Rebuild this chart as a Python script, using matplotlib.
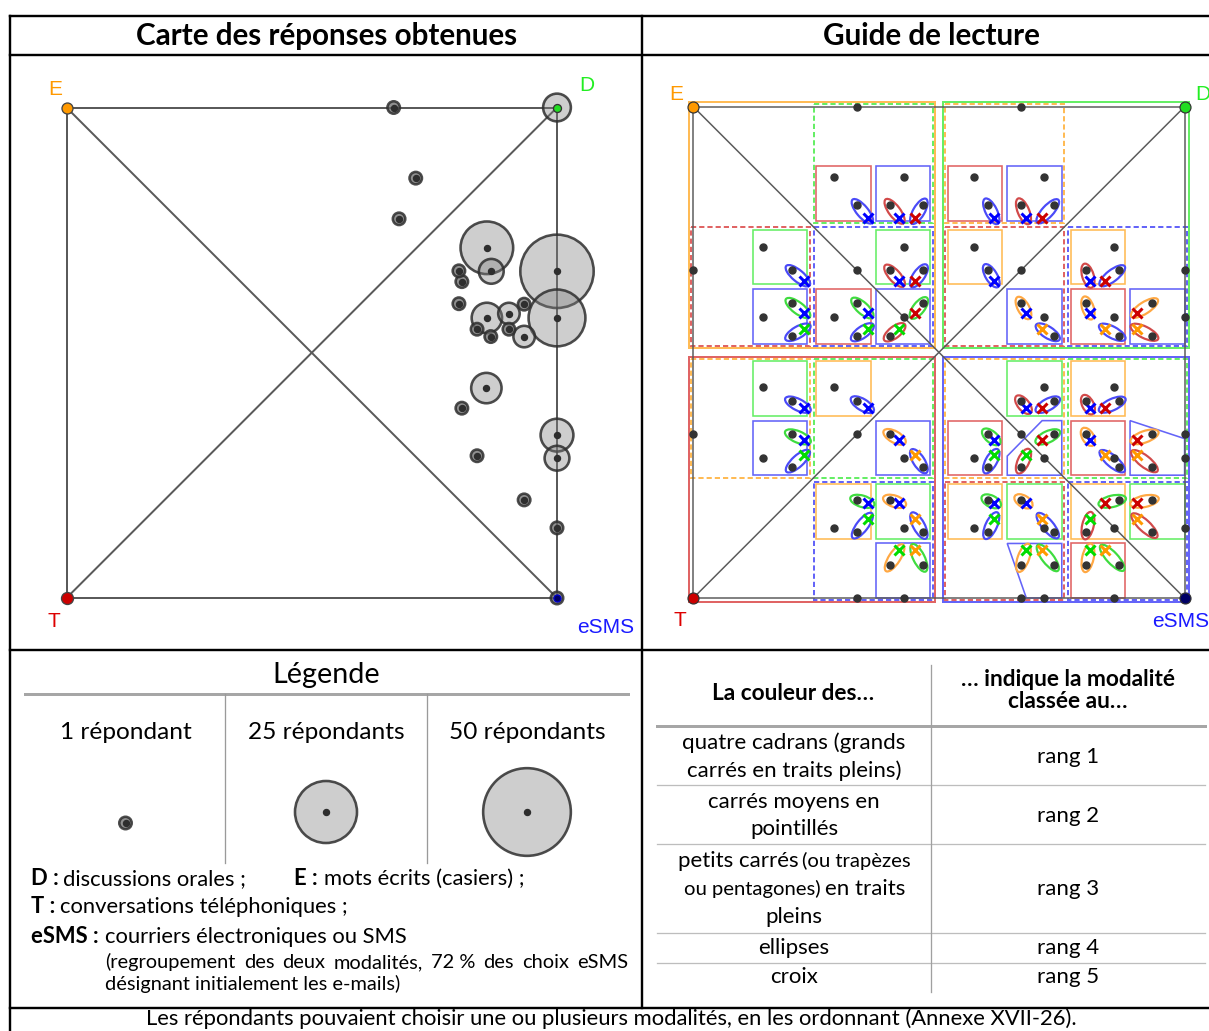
import itertools
import numpy as np
import matplotlib.pyplot as plt
from matplotlib.patches import Circle, Ellipse, Polygon

W, H, DPI = 1209, 1031, 100
PT = 72 / DPI  # points par pixel

plt.rcParams['font.family'] = ['Lato', 'DejaVu Sans']
GEO_FONT = ['Liberation Sans', 'DejaVu Sans']

# --- carte des réponses : position dans le carré (E = 0,0 en haut à gauche ; eSMS = 1,1)
rep_x = [0.667, 1.0, 0.712, 0.678, 0.857, 0.866, 0.800, 0.806, 0.800, 0.857,
         0.837, 0.865, 0.902, 0.902, 0.933, 0.933, 1.0, 1.0, 0.856, 0.806,
         1.0, 1.0, 0.837, 0.933, 1.0, 1.0]
rep_y = [0.0, 0.0, 0.144, 0.227, 0.286, 0.334, 0.333, 0.355, 0.400, 0.429,
         0.452, 0.467, 0.452, 0.420, 0.401, 0.467, 0.334, 0.429, 0.572, 0.613,
         0.668, 0.715, 0.710, 0.800, 0.857, 1.0]
rep_n = [1, 5, 1, 1, 18, 4, 1, 1, 1, 6,
         1, 1, 1, 3, 1, 3, 35, 21, 6, 1,
         7, 4, 1, 1, 1, 1]

legende_n = [1, 25, 50]
legende_txt = ['1 répondant', '25 répondants', '50 répondants']

# --- guide de lecture
choix = ['E', 'D', 'T', 'S', 'S']     # eSMS = e-mail + SMS : peut apparaître 2 fois
poids_rang = [16, 8, 4, 2, 1]
coin = {'E': (0, 0), 'D': (1, 0), 'T': (0, 1), 'S': (1, 1)}
nom = {'E': 'E', 'D': 'D', 'T': 'T', 'S': 'eSMS'}
couleur = {'E': '#ff9900', 'D': '#00dd00', 'T': '#cc0000', 'S': '#0000ff'}
couleur_label = {'E': '#ff9900', 'D': '#22ee22', 'T': '#dd0000', 'S': '#1a1aff'}
couleur_cadre = {'E': '#ffbb55', 'D': '#66ee66', 'T': '#e06464', 'S': '#6464f8'}
couleur_ellipse = {'E': '#ffa843', 'D': '#3fdc3f', 'T': '#d24a4a', 'S': '#4a4af8'}
couleur_coin = {'E': '#ff9900', 'D': '#22dd22', 'T': '#cc0000', 'S': '#000066'}

# petits carrés coupés (trapèzes / pentagones), sommets en fraction de la case
coupes = {
    ('S', 'E', 'S'): [(0, .65), (.64, 0), (1, 0), (1, 1), (0, 1)],
    ('S', 'D', 'S'): [(0, 0), (1, .33), (1, 1), (0, 1)],
    ('S', 'T', 'S'): [(0, 0), (1, 0), (1, 1), (.35, 1)],
}

tableau_gauche = [['quatre cadrans (grands', 'carrés en traits pleins)'],
                  ['carrés moyens en', 'pointillés'],
                  None,
                  ['ellipses'],
                  ['croix']]
tableau_droite = ['rang 1', 'rang 2', 'rang 3', 'rang 4', 'rang 5']

legende_txt_lignes = [('D :', 'discussions orales ;'), ('E :', 'mots écrits (casiers) ;'),
                      ('T :', 'conversations téléphoniques ;'),
                      ('eSMS :', 'courriers électroniques ou SMS')]
note = 'Les répondants pouvaient choisir une ou plusieurs modalités, en les ordonnant (Annexe XVII-26).'


fig = plt.figure(figsize=(W / DPI, H / DPI), dpi=DPI)
renderer = fig.canvas.get_renderer()

fond = fig.add_axes([0, 0, 1, 1])
fond.set_xlim(0, W)
fond.set_ylim(H, 0)
fond.axis('off')


def axe_carre(boite, origine, cote):
    x0, y0, x1, y1 = boite
    ox, oy = origine
    ax = fig.add_axes([x0 / W, 1 - y1 / H, (x1 - x0) / W, (y1 - y0) / H])
    ax.set_xlim((x0 - ox) / cote, (x1 - ox) / cote)
    ax.set_ylim((y1 - oy) / cote, (y0 - oy) / cote)
    ax.axis('off')
    return ax


def largeur(s, size, **kw):
    t = fond.text(0, 0, s, fontsize=size, **kw)
    w = t.get_window_extent(renderer).width
    t.remove()
    return w


def taille(s, cible, **kw):
    return 20 * cible / largeur(s, 20, **kw)


def texte(x, y, s, size, ha='left', bold=False, **kw):
    return fond.text(x, y, s, fontsize=size, ha=ha, va='baseline',
                     fontweight='bold' if bold else 'normal', **kw)


R1 = 6.2  # rayon en px d'une bulle d'un répondant


def bulle(ax, x, y, n, echelle):
    r = R1 * np.sqrt(n) / echelle
    fc = (0.42, 0.42, 0.42, 0.75) if n == 1 else (0.5, 0.5, 0.5, 0.38)
    ax.add_patch(Circle((x, y), r, fc=fc, ec=(0.18, 0.18, 0.18, 0.85),
                        lw=2.6 * PT, zorder=2))
    ax.plot(x, y, 'o', ms=6 * PT, color='#2e2e2e', zorder=3)


def carre(ax, lw):
    for a, b in [('E', 'D'), ('D', 'S'), ('S', 'T'), ('T', 'E'), ('E', 'S'), ('D', 'T')]:
        ax.plot([coin[a][0], coin[b][0]], [coin[a][1], coin[b][1]], color='#5a5a5a', lw=lw, zorder=1.5)


def etiquettes(ax, decal):
    for m, (dx, dy) in decal.items():
        ax.annotate(nom[m], xy=coin[m], xytext=(dx * PT, -dy * PT), textcoords='offset points',
                    ha='left', va='baseline', fontsize=15, color=couleur_label[m],
                    family=GEO_FONT, annotation_clip=False)


# ------------------------------------------------------------ carte
CARTE_O, CARTE_C = (66.5, 107.5), 490.5
carte = axe_carre((10, 55, 642, 650), CARTE_O, CARTE_C)
carre(carte, 2.0 * PT)
for i in np.argsort(rep_n, kind='stable')[::-1]:
    bulle(carte, rep_x[i], rep_y[i], rep_n[i], CARTE_C)
for m, ms, ec in [('E', 11, '#444'), ('D', 8, '#333'), ('T', 12, '#444'), ('S', 7, '#0000cc')]:
    carte.plot(*coin[m], 'o', ms=ms * PT, mfc=couleur_coin[m], mec=ec, mew=1.3 * PT, zorder=5)
etiquettes(carte, {'E': (-18.5, -12.5), 'D': (22, -16.8), 'T': (-18.5, 28.7), 'S': (20, 34.7)})

# ------------------------------------------------------------ guide de lecture
GUIDE_O, GUIDE_C = (693.3, 106.7), 491.3
guide = axe_carre((643, 55, 1209, 650), GUIDE_O, GUIDE_C)

classements = set()
for p in itertools.permutations(choix):
    for k in range(1, 6):
        classements.add(p[:k])
par_long = {k: sorted(c for c in classements if len(c) == k) for k in range(1, 6)}


def barycentre(seq):
    w = np.array(poids_rang[:len(seq)], float)
    xy = np.array([coin[m] for m in seq], float)
    return (w[:, None] * xy).sum(0) / w.sum()


def boite(seq):
    x0, y0, x1, y1 = 0.0, 0.0, 1.0, 1.0
    for k, m in enumerate(seq):
        mx, my = coin[m]
        xm, ym = (x0 + x1) / 2, (y0 + y1) / 2
        x0, x1 = (xm, x1) if mx else (x0, xm)
        y0, y1 = (ym, y1) if my else (y0, ym)
        if k == 0:
            dx = 0.009 * (1 if mx else -1)
            dy = 0.009 * (1 if my else -1)
            x0, x1, y0, y1 = x0 + dx, x1 + dx, y0 + dy, y1 + dy
        else:
            e = [0.004, 0.005][k - 1]
            x0, x1, y0, y1 = x0 + e, x1 - e, y0 + e, y1 - e
    return x0, y0, x1, y1


styles = {1: dict(lw=2.0 * PT, ls='-'), 2: dict(lw=2.0 * PT, ls=(0, (2.6, 1.5))),
          3: dict(lw=1.6 * PT, ls='-')}
for k in (1, 2, 3):
    for seq in par_long[k]:
        x0, y0, x1, y1 = boite(seq)
        frac = coupes.get(seq, [(0, 0), (1, 0), (1, 1), (0, 1)])
        pts = [(x0 + u * (x1 - x0), y0 + v * (y1 - y0)) for u, v in frac]
        guide.add_patch(Polygon(pts, closed=True, fill=False, ec=couleur_cadre[seq[-1]],
                                zorder=1 + k / 10, **styles[k]))

carre(guide, 1.5 * PT)

for seq in par_long[4]:
    suite = [s for s in par_long[5] if s[:4] == seq][0]
    p4, p5 = barycentre(seq), barycentre(suite)
    d = p5 - p4
    ang = np.degrees(np.arctan2(d[1], d[0]))
    guide.add_patch(Ellipse((p4 + p5) / 2, np.hypot(*d) + 14 / GUIDE_C, 11.5 / GUIDE_C, angle=ang,
                            fill=False, ec=couleur_ellipse[seq[3]], lw=2.2 * PT, zorder=3))
    guide.plot(*p5, marker='x', ms=10.5 * PT, mew=3.0 * PT, color=couleur[suite[4]], zorder=4)

for k in (2, 3, 4):
    for seq in par_long[k]:
        guide.plot(*barycentre(seq), 'o', ms=7 * PT, color='#333333', zorder=5)
for m in coin:
    guide.plot(*coin[m], 'o', ms=11 * PT, mfc=couleur_coin[m], mec='#333', mew=1.2 * PT, zorder=6)
etiquettes(guide, {'E': (-24.3, -6.7), 'D': (10.7, -6.7), 'T': (-20, 28), 'S': (-32, 29.3)})

# ------------------------------------------------------------ cadre du tableau
NOIR = dict(color='black', lw=2.4 * PT)
for y in (16, 55, 650, 1008):
    fond.plot([10, W], [y, y], **NOIR)
fond.plot([10, 10], [16, H], **NOIR)
fond.plot([642, 642], [16, 1008], **NOIR)

s_titre = taille('Carte des réponses obtenues', 383, fontweight='bold')
texte(326.5, 45, 'Carte des réponses obtenues', s_titre, ha='center', bold=True)
texte(931, 45, 'Guide de lecture', s_titre, ha='center', bold=True)

# ------------------------------------------------------------ légende
texte(326, 683, 'Légende', taille('Légende', 108), ha='center')
fond.plot([25, 628], [694, 694], color='#a6a6a6', lw=3 * PT)
for x in (225, 427):
    fond.plot([x, x], [694, 863], color='#9a9a9a', lw=1.3 * PT)

s_col = taille('25 répondants', 156)
for cx, cy, n, lab in zip([125.5, 326, 527], [823, 812, 812], legende_n, legende_txt):
    texte(cx, 739, lab, s_col, ha='center')
    bulle(fond, cx, cy, n, 1.0)

s_corps = taille('courriers électroniques ou SMS', 302.7)
espace = 0.22 * s_corps / PT
pos_lignes = [(30.6, 60.4, 885), (294, 324.5, 885), (30.6, 60.4, 913.3), (30.6, 105.3, 943.3)]
for (xb, xt, y), (b, t) in zip(pos_lignes, legende_txt_lignes):
    texte(xb, y, b, s_corps, bold=True)
    xt = max(xt, xb + largeur(b, s_corps, fontweight='bold') + espace)
    texte(xt, y, t, s_corps)

s_petit = taille('désignant initialement les e-mails)', 296.7)
mots = '(regroupement des deux modalités, 72\u00a0% des choix eSMS'.split(' ')
larg = [largeur(m, s_petit) for m in mots]
ecart = (628.6 - 105.3 - sum(larg)) / (len(mots) - 1)
x = 105.3
for m, l in zip(mots, larg):
    texte(x, 968.3, m, s_petit)
    x += l + ecart
texte(105.3, 990, 'désignant initialement les e-mails)', s_petit)

texte(611, 1025, note, taille(note, 936), ha='center')

# ------------------------------------------------------------ tableau des rangs
fond.plot([657, 1205], [726, 726], color='#a6a6a6', lw=3 * PT)
for y in (785, 844.3, 933.3, 963.3):
    fond.plot([657, 1205], [y, y], color='#bdbdbd', lw=1.3 * PT)
fond.plot([931.4, 931.4], [665, 992], color='#a0a0a0', lw=1.3 * PT)

s_tete = taille('… indique la modalité', 214, fontweight='bold')
texte(793, 700, 'La couleur des…', s_tete, ha='center', bold=True)
texte(1068, 686, '… indique la modalité', s_tete, ha='center', bold=True)
texte(1067.5, 708, 'classée au…', s_tete, ha='center', bold=True)

s_tab = taille('quatre cadrans (grands', 223)
s_tab_petit = taille('(ou trapèzes', 108.8)
bases = [[749.3, 776.7], [808, 835], [866.7, 895, 923.3], [954], [983.3]]
bases_rang = [763, 821.7, 895, 954, 983.3]
for lignes, ys, rang, yr in zip(tableau_gauche, bases, tableau_droite, bases_rang):
    if lignes is not None:
        for s, y in zip(lignes, ys):
            texte(794, y, s, s_tab, ha='center')
    texte(1068, yr, rang, s_tab, ha='center')
texte(678, 866.7, 'petits carrés', s_tab)
texte(801.5, 866.7, '(ou trapèzes', s_tab_petit)
texte(684.3, 895, 'ou pentagones)', s_tab_petit)
texte(825, 895, 'en traits', s_tab)
texte(794, 923.3, 'pleins', s_tab, ha='center')

fig.savefig('out.png', dpi=DPI)
